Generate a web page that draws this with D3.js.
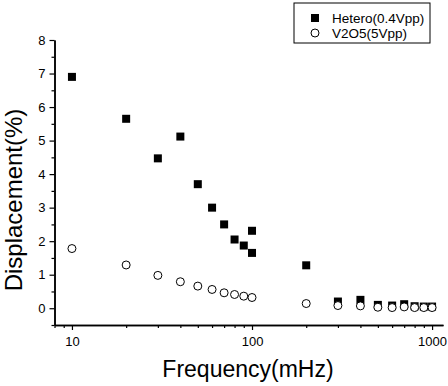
<!DOCTYPE html>
<html lang="en">
  <head>
    <meta charset="UTF-8" />
    <title>Displacement vs Frequency</title>
    <style>
      body { margin: 0; background: #fff; }
      svg { display: block; font-family: "Liberation Sans", Arial, sans-serif; }
    </style>
  </head>
  <body>
    <div id="chart"></div>
    <script src="https://cdn.jsdelivr.net/npm/d3@7"></script>
    <script>
      var heteroFreq = [10, 20, 30, 40, 50, 60, 70, 80, 90, 100, 100, 200, 300, 400, 500, 600, 700, 800, 900, 1000];
      var heteroDisp = [6.9, 5.65, 4.47, 5.12, 3.7, 3.0, 2.5, 2.05, 1.87, 2.31, 1.65, 1.28, 0.2, 0.25, 0.1, 0.08, 0.12, 0.06, 0.05, 0.05];
      var v2o5Freq = [10, 20, 30, 40, 50, 60, 70, 80, 90, 100, 200, 300, 400, 500, 600, 700, 800, 900, 1000];
      var v2o5Disp = [1.78, 1.29, 0.98, 0.79, 0.66, 0.56, 0.46, 0.41, 0.36, 0.32, 0.14, 0.08, 0.07, 0.03, 0.02, 0.04, 0.02, 0.02, 0.02];
      var xTicks = [10, 100, 1000];
      var xMinor = [8, 9, 20, 30, 40, 50, 60, 70, 80, 90, 200, 300, 400, 500, 600, 700, 800, 900];
      var yTicks = [0, 1, 2, 3, 4, 5, 6, 7, 8];
      var yMinor = [-0.5, 0.5, 1.5, 2.5, 3.5, 4.5, 5.5, 6.5, 7.5];
      var seriesNames = ["Hetero(0.4Vpp)", "V2O5(5Vpp)"];

      var width = 448;
      var height = 386;

      var svg = d3.select("#chart")
                  .append("svg")
                  .attr("width", width)
                  .attr("height", height);

      var xScale = d3.scaleLog()
                     .domain([8, 1150])
                     .range([54.5, 443]);
      var yScale = d3.scaleLinear()
                     .domain([-0.5, 8])
                     .range([325, 40]);

      // axes: major + minor ticks
      var xAxis = d3.axisBottom(xScale).tickValues(xTicks).tickFormat(d3.format("d")).tickSize(5).tickSizeOuter(0);
      var xAxisMinor = d3.axisBottom(xScale).tickValues(xMinor).tickFormat("").tickSize(3).tickSizeOuter(0);
      var yAxis = d3.axisLeft(yScale).tickValues(yTicks).tickSize(5).tickSizeOuter(0);
      var yAxisMinor = d3.axisLeft(yScale).tickValues(yMinor).tickFormat("").tickSize(3).tickSizeOuter(0);

      var gx = svg.append("g").attr("transform", "translate(0,325)").call(xAxis);
      svg.append("g").attr("transform", "translate(0,325)").call(xAxisMinor);
      var gy = svg.append("g").attr("transform", "translate(54.5,0)").call(yAxis);
      svg.append("g").attr("transform", "translate(54.5,0)").call(yAxisMinor);

      svg.selectAll(".domain").attr("stroke", "#000").attr("stroke-width", 1.5);
      svg.selectAll(".tick line").attr("stroke", "#000").attr("stroke-width", 1.2);
      gx.selectAll("text").attr("font-size", "13px").attr("fill", "#000")
        .attr("font-family", "Liberation Sans, Arial, sans-serif").attr("dy", "1.0em");
      gy.selectAll("text").attr("font-size", "13px").attr("fill", "#000")
        .attr("font-family", "Liberation Sans, Arial, sans-serif").attr("x", -9);

      // Hetero squares
      svg.selectAll("rect.hetero")
         .data(heteroFreq)
         .enter()
         .append("rect")
         .attr("class", "hetero")
         .attr("x", function(d, i) { return xScale(d) - 4; })
         .attr("y", function(d, i) { return yScale(heteroDisp[i]) - 4; })
         .attr("width", 8)
         .attr("height", 8)
         .attr("fill", "#000");

      // V2O5 open circles
      svg.selectAll("circle.v2o5")
         .data(v2o5Freq)
         .enter()
         .append("circle")
         .attr("class", "v2o5")
         .attr("cx", function(d, i) { return xScale(d); })
         .attr("cy", function(d, i) { return yScale(v2o5Disp[i]); })
         .attr("r", 4)
         .attr("fill", "#fff")
         .attr("stroke", "#000")
         .attr("stroke-width", 1);

      // axis titles
      svg.append("text")
         .attr("x", 248)
         .attr("y", 377)
         .attr("text-anchor", "middle")
         .attr("font-size", "23px")
         .text("Frequency(mHz)");
      svg.append("text")
         .attr("transform", "translate(22,200) rotate(-90)")
         .attr("text-anchor", "middle")
         .attr("font-size", "24px")
         .text("Displacement(%)");

      // legend
      var legend = svg.append("g");
      legend.append("rect")
            .attr("x", 294).attr("y", 3)
            .attr("width", 136).attr("height", 40)
            .attr("fill", "none").attr("stroke", "#000").attr("stroke-width", 1);
      legend.append("rect")
            .attr("x", 311).attr("y", 14).attr("width", 8).attr("height", 8)
            .attr("fill", "#000");
      legend.append("circle")
            .attr("cx", 315).attr("cy", 33).attr("r", 4)
            .attr("fill", "#fff").attr("stroke", "#000");
      legend.selectAll("text.leg")
            .data(seriesNames)
            .enter()
            .append("text")
            .attr("class", "leg")
            .attr("x", 332)
            .attr("y", function(d, i) { return 23 + i * 15; })
            .attr("font-size", "13.5px")
            .text(function(d) { return d; });
    </script>
  </body>
</html>
